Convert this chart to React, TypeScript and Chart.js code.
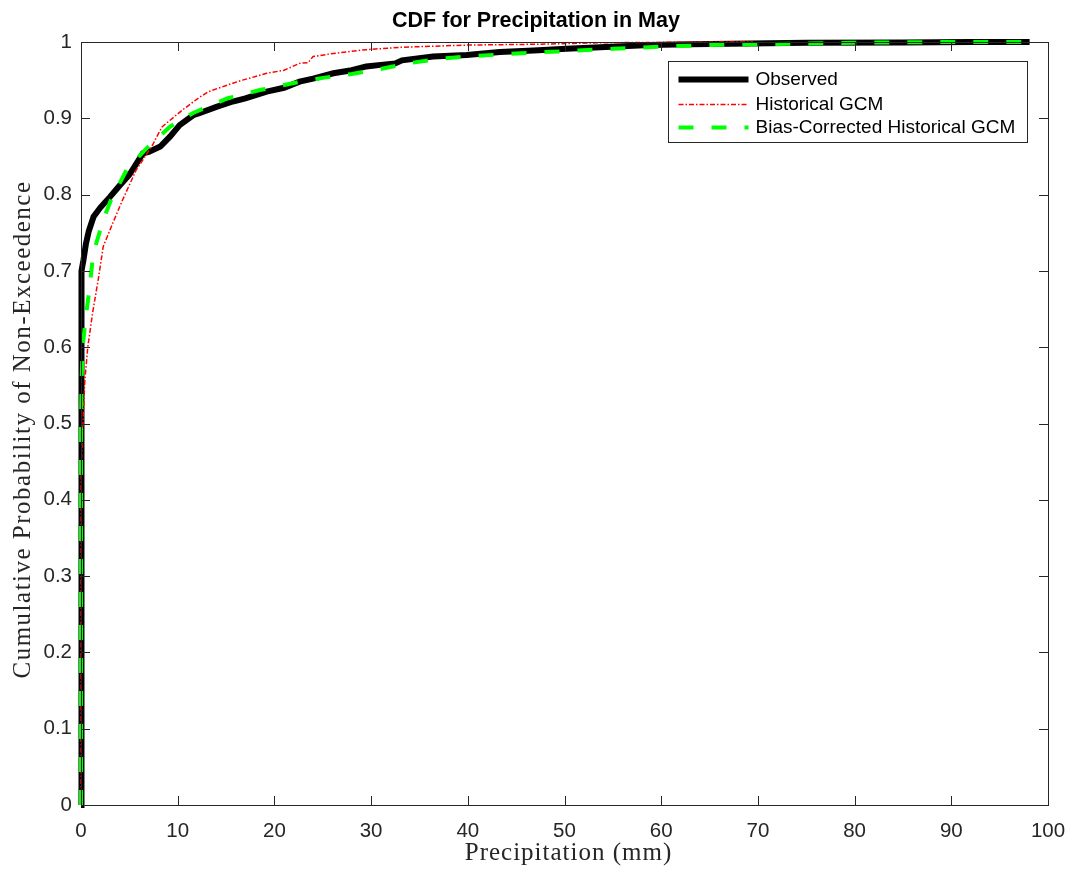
import { useEffect, useRef } from "react";
import { Chart, registerables } from "chart.js";

Chart.register(...registerables);

// ---- Data ----
const seriesLabels = ["Observed", "Historical GCM", "Bias-Corrected Historical GCM"];

const obsX = [0, 0, 0.1, 0.25, 0.5, 0.8, 1.3, 2, 3, 4, 5, 6.4, 7, 8.2, 9.2, 10.2, 11.6, 12.3, 14, 15.7, 17, 19.2, 21, 22.6, 24, 26.1, 28, 29.5, 31, 32.5, 33.2, 36.4, 39.9, 43.3, 46.8, 50.2, 53.7, 58.8, 63, 69.2, 75, 85, 92, 98.1];
const obsY = [0, 0.68, 0.7, 0.714, 0.735, 0.752, 0.771, 0.783, 0.797, 0.812, 0.826, 0.854, 0.856, 0.863, 0.876, 0.891, 0.904, 0.907, 0.915, 0.922, 0.926, 0.935, 0.94, 0.948, 0.952, 0.959, 0.963, 0.968, 0.97, 0.972, 0.976, 0.981, 0.983, 0.987, 0.989, 0.991, 0.993, 0.996, 0.997, 0.998, 0.999, 0.9995, 1.0, 1.0];

const histX = [0, 0, 0.05, 0.2, 0.4, 0.7, 1.2, 1.8, 2.3, 3.3, 4.3, 5.7, 7.4, 7.8, 8.4, 10.5, 12.3, 13.2, 15.7, 16.7, 19.2, 21, 22.6, 23.5, 24, 26.1, 29.5, 33, 40, 46.8, 53.7, 60, 65, 69.5];
const histY = [0, 0.42, 0.45, 0.5, 0.557, 0.6, 0.645, 0.69, 0.732, 0.763, 0.793, 0.832, 0.865, 0.875, 0.889, 0.911, 0.928, 0.935, 0.946, 0.95, 0.959, 0.963, 0.972, 0.973, 0.981, 0.985, 0.99, 0.993, 0.996, 0.997, 0.999, 0.9995, 0.9998, 1.0];

const biasX = [0, 0, 0.05, 0.17, 0.5, 0.86, 1.27, 2.3, 3.1, 4.7, 6.8, 9.2, 11.6, 15.1, 18.5, 21.9, 25, 28, 31.1, 33.8, 37, 40, 45, 50, 55, 60, 65, 70, 80, 90, 98.1];
const biasY = [0, 0.5, 0.55, 0.6, 0.64, 0.675, 0.723, 0.767, 0.793, 0.832, 0.861, 0.889, 0.907, 0.926, 0.937, 0.946, 0.953, 0.958, 0.965, 0.972, 0.978, 0.981, 0.985, 0.988, 0.991, 0.994, 0.996, 0.997, 0.999, 1.0, 1.0];

const xTicks = [0, 10, 20, 30, 40, 50, 60, 70, 80, 90, 100];
const yTicks = [0, 0.1, 0.2, 0.3, 0.4, 0.5, 0.6, 0.7, 0.8, 0.9, 1];

const titleText = "CDF for Precipitation in May";
const xTitle = "Precipitation (mm)";
const yTitle = "Cumulative Probability of Non-Exceedence";

const toPoints = (xs: number[], ys: number[]) => xs.map((x, i) => ({ x, y: ys[i] }));

const AXIS_COLOR = "#262626";
const SANS = "'Liberation Sans', Arial, sans-serif";
const SERIF = "'Liberation Serif', 'Times New Roman', serif";

const framePlugin = {
  id: "matlabFrame",
  afterDatasetsDraw(chart: any) {
    const { ctx, chartArea, scales } = chart;
    const { left, right, top, bottom } = chartArea;
    ctx.save();
    ctx.strokeStyle = AXIS_COLOR;
    ctx.lineWidth = 1;
    ctx.setLineDash([]);
    const tl = 9;
    ctx.beginPath();
    for (const v of xTicks) {
      const px = Math.round(scales.x.getPixelForValue(v)) + 0.5;
      ctx.moveTo(px, bottom);
      ctx.lineTo(px, bottom - tl);
      ctx.moveTo(px, top);
      ctx.lineTo(px, top + tl);
    }
    for (const v of yTicks) {
      const py = Math.round(scales.y.getPixelForValue(v)) + 0.5;
      ctx.moveTo(left, py);
      ctx.lineTo(left + tl, py);
      ctx.moveTo(right, py);
      ctx.lineTo(right - tl, py);
    }
    ctx.stroke();
    ctx.strokeRect(Math.round(left) + 0.5, Math.round(top) + 0.5, Math.round(right - left), Math.round(bottom - top));
    ctx.restore();
  },
  afterDraw(chart: any) {
    const { ctx, chartArea } = chart;
    // axis titles
    ctx.save();
    ctx.fillStyle = AXIS_COLOR;
    ctx.font = `25px ${SERIF}`;
    (ctx as any).letterSpacing = "1px";
    ctx.textAlign = "center";
    ctx.textBaseline = "alphabetic";
    ctx.fillText(xTitle, (chartArea.left + chartArea.right) / 2 + 4, 860);
    (ctx as any).letterSpacing = "1.5px";
    ctx.translate(30, (chartArea.top + chartArea.bottom) / 2 + 6);
    ctx.rotate(-Math.PI / 2);
    ctx.fillText(yTitle, 0, 0);
    ctx.restore();

    // legend
    const boxW = 359;
    const boxH = 81;
    const bx = Math.round(chartArea.right - 21 - boxW) + 0.5;
    const by = Math.round(chartArea.top + 19) + 0.5;
    ctx.save();
    ctx.fillStyle = "#ffffff";
    ctx.fillRect(bx, by, boxW, boxH);
    ctx.strokeStyle = AXIS_COLOR;
    ctx.lineWidth = 1;
    ctx.setLineDash([]);
    ctx.strokeRect(bx, by, boxW, boxH);
    const rows = [18, 43, 66];
    chart.data.datasets.forEach((ds: any, i: number) => {
      const y = by + rows[i];
      ctx.save();
      ctx.strokeStyle = ds.borderColor;
      ctx.lineWidth = ds.borderWidth;
      ctx.setLineDash(ds.borderDash || []);
      ctx.lineCap = "butt";
      ctx.beginPath();
      ctx.moveTo(bx + 10, y);
      ctx.lineTo(bx + 80, y);
      ctx.stroke();
      ctx.restore();
      ctx.fillStyle = "#000000";
      ctx.font = `19px ${SANS}`;
      ctx.textBaseline = "middle";
      ctx.textAlign = "left";
      ctx.fillText(ds.label, bx + 87, y);
    });
    ctx.restore();
  },
};

export default function App() {
  const canvasRef = useRef<HTMLCanvasElement | null>(null);

  useEffect(() => {
    const canvas = canvasRef.current;
    if (!canvas) return;
    const chart = new Chart(canvas, {
      type: "line",
      data: {
        datasets: [
          {
            label: seriesLabels[0],
            data: toPoints(obsX, obsY),
            borderColor: "#000000",
            backgroundColor: "#000000",
            borderWidth: 6,
            pointRadius: 0,
            tension: 0,
            order: 3,
            clip: 8,
          },
          {
            label: seriesLabels[1],
            data: toPoints(histX, histY),
            borderColor: "#ff0000",
            backgroundColor: "#ff0000",
            borderWidth: 1.5,
            borderDash: [5, 2, 1.5, 2],
            pointRadius: 0,
            tension: 0,
            order: 2,
            clip: 8,
          },
          {
            label: seriesLabels[2],
            data: toPoints(biasX, biasY),
            borderColor: "#00ff00",
            backgroundColor: "#00ff00",
            borderWidth: 4,
            borderDash: [15, 18],
            pointRadius: 0,
            tension: 0,
            order: 1,
            clip: 8,
          },
        ],
      },
      options: {
        responsive: false,
        animation: false,
        devicePixelRatio: 1,
        layout: { padding: 0 },
        plugins: {
          legend: { display: false },
          tooltip: { enabled: false },
          title: {
            display: true,
            text: titleText,
            color: "#000000",
            font: { family: SANS, size: 21.5, weight: "bold", lineHeight: 1.2 },
            padding: { top: 8.1, bottom: 8.1 },
          },
        },
        scales: {
          x: {
            type: "linear",
            min: 0,
            max: 100,
            afterBuildTicks: (s: any) => {
              s.ticks = xTicks.map((v) => ({ value: v }));
            },
            afterFit: (s: any) => {
              s.height = 71;
              s.paddingLeft = 0;
              s.paddingRight = 24;
            },
            grid: { display: false, drawTicks: false },
            border: { display: false },
            ticks: {
              color: AXIS_COLOR,
              padding: 14.5,
              maxRotation: 0,
              autoSkip: false,
              font: { family: SANS, size: 20.5 },
              callback: (v: any) => String(v),
            },
            title: { display: false, text: xTitle },
          },
          y: {
            type: "linear",
            min: 0,
            max: 1,
            afterBuildTicks: (s: any) => {
              s.ticks = yTicks.map((v) => ({ value: v }));
            },
            afterFit: (s: any) => {
              s.width = 81;
              s.paddingTop = 0;
              s.paddingBottom = 0;
            },
            grid: { display: false, drawTicks: false },
            border: { display: false },
            ticks: {
              color: AXIS_COLOR,
              padding: 9,
              autoSkip: false,
              font: { family: SANS, size: 20.5 },
              callback: (v: any) => String(Number(Number(v).toFixed(1))),
            },
            title: { display: false, text: yTitle },
          },
        },
      },
      plugins: [framePlugin],
    } as any);
    return () => chart.destroy();
  }, []);

  return (
    <div style={{ position: "absolute", left: 0, top: 0, width: 1072, height: 876, background: "#ffffff" }}>
      <canvas ref={canvasRef} width={1072} height={876} style={{ display: "block" }} />
    </div>
  );
}
